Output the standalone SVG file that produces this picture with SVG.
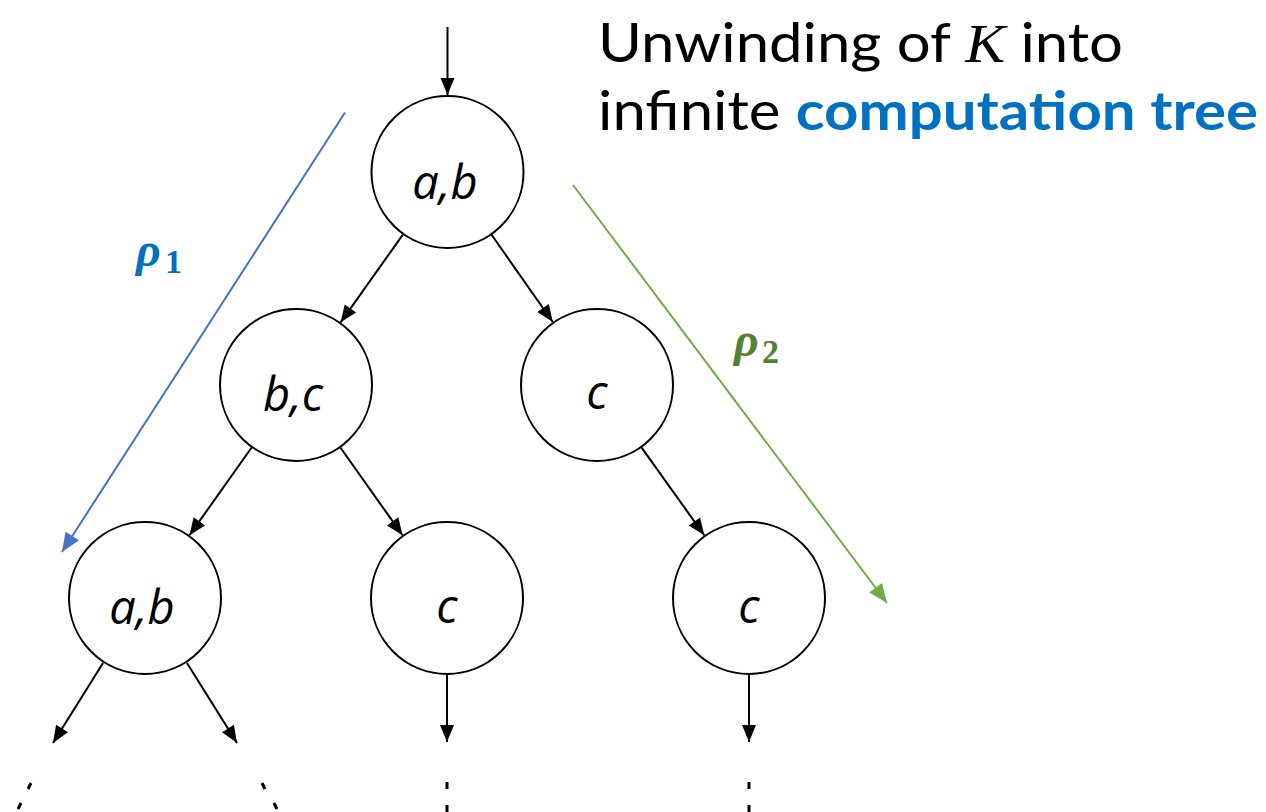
<svg xmlns="http://www.w3.org/2000/svg" width="1266" height="812" viewBox="0 0 1266 812">
<defs>
<style>
.node circle{fill:#fff;stroke:#000;stroke-width:2}
.node text{font-family:"Open Sans","Liberation Sans",sans-serif;font-style:italic;font-size:47px;text-anchor:middle;fill:#000}
.edge{stroke:#000;stroke-width:2;fill:none;marker-end:url(#ah)}
.dot{stroke:#000;stroke-width:3}
.title{font-family:Lato,"Liberation Sans",sans-serif;font-size:54px;fill:#000}
</style>
<marker id="ah" markerUnits="userSpaceOnUse" markerWidth="20" markerHeight="20" viewBox="-18 -8 20 16" refX="0" refY="0" orient="auto">
<path d="M0,0 L-17,-7 L-17,7 Z" fill="#000"/>
</marker>
<marker id="ahBlue" markerUnits="userSpaceOnUse" markerWidth="22" markerHeight="22" viewBox="-20 -9 22 18" refX="0" refY="0" orient="auto">
<path d="M0,0 L-19,-8 L-19,8 Z" fill="#4472C4"/>
</marker>
<marker id="ahGreen" markerUnits="userSpaceOnUse" markerWidth="22" markerHeight="22" viewBox="-20 -9 22 18" refX="0" refY="0" orient="auto">
<path d="M0,0 L-19,-8 L-19,8 Z" fill="#70AD47"/>
</marker>
</defs>
<rect width="1266" height="812" fill="#fff"/>

<g id="title">
<text class="title" x="598" y="62" textLength="525" lengthAdjust="spacingAndGlyphs">Unwinding of <tspan font-family="Liberation Serif" font-style="italic">K</tspan> into</text>
<text class="title" x="598" y="130" textLength="660" lengthAdjust="spacingAndGlyphs">infinite <tspan font-weight="bold" fill="#0070C0">computation tree</tspan></text>
</g>

<g id="connectors">
<line class="edge" x1="447.5" y1="27" x2="447.5" y2="95"/>
<line class="edge" x1="403.4" y1="233.9" x2="340.6" y2="322.3"/>
<line class="edge" x1="491.2" y1="234.2" x2="552.8" y2="322"/>
<line class="edge" x1="252" y1="447" x2="189.5" y2="535.2"/>
<line class="edge" x1="340" y1="447" x2="402.5" y2="535.2"/>
<line class="edge" x1="641.1" y1="446.9" x2="704.3" y2="535.3"/>
<line class="edge" x1="103" y1="663" x2="53" y2="743"/>
<line class="edge" x1="187" y1="663" x2="237" y2="743"/>
<line class="edge" x1="447" y1="674" x2="447" y2="742"/>
<line class="edge" x1="749" y1="674" x2="749" y2="742"/>
</g>

<g id="rho1-path">
<line x1="345" y1="112.5" x2="62" y2="552" stroke="#4472C4" stroke-width="2" marker-end="url(#ahBlue)"/>
<text font-family="Liberation Serif,serif" font-weight="bold" fill="#0070C0"><tspan x="136" y="266" font-style="italic" font-size="48">ρ</tspan><tspan x="165" y="273" font-size="34">1</tspan></text>
</g>

<g id="rho2-path">
<line x1="573" y1="185" x2="887" y2="603" stroke="#70AD47" stroke-width="2" marker-end="url(#ahGreen)"/>
<text font-family="Liberation Serif,serif" font-weight="bold" fill="#548235"><tspan x="734" y="356" font-style="italic" font-size="48">ρ</tspan><tspan x="762" y="363" font-size="34">2</tspan></text>
</g>

<g id="n-root" class="node"><circle cx="447.5" cy="172" r="76"/><text x="445" y="199">a,b</text></g>
<g id="n-bc" class="node"><circle cx="296" cy="385" r="76"/><text x="293" y="411">b,c</text></g>
<g id="n-c1" class="node"><circle cx="597" cy="385" r="76"/><text x="597" y="409">c</text></g>
<g id="n-ab2" class="node"><circle cx="145" cy="598" r="76"/><text x="142" y="624">a,b</text></g>
<g id="n-c2" class="node"><circle cx="447" cy="598" r="76"/><text x="447" y="623">c</text></g>
<g id="n-c3" class="node"><circle cx="749" cy="598" r="76"/><text x="749" y="623">c</text></g>

<g id="ellipses">
<line class="dot" x1="31" y1="783" x2="28" y2="789"/>
<line class="dot" x1="21" y1="803" x2="18" y2="809"/>
<line class="dot" x1="262" y1="783" x2="265" y2="789"/>
<line class="dot" x1="274" y1="803" x2="277" y2="809"/>
<line class="dot" x1="447" y1="782" x2="447" y2="789"/>
<line class="dot" x1="447" y1="805" x2="447" y2="812"/>
<line class="dot" x1="749" y1="782" x2="749" y2="789"/>
<line class="dot" x1="749" y1="805" x2="749" y2="812"/>
</g>
</svg>
